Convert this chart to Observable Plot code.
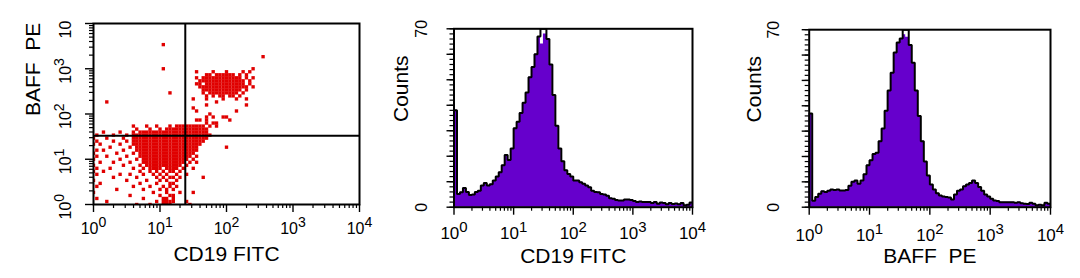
<!DOCTYPE html>
<html><head><meta charset="utf-8">
<script src="https://cdn.jsdelivr.net/npm/d3@7"></script>
<script src="https://cdn.jsdelivr.net/npm/@observablehq/plot@0.6"></script>
<style>
html,body{margin:0;padding:0;background:#fff;}
#wrap{position:relative;width:1080px;height:278px;overflow:hidden;background:#fff;}
.panel{position:absolute;top:0;}
svg text{white-space:pre;}
</style></head><body><div id="wrap"></div>
<script>
// ---------- data ----------
const decadeExponents = [0, 1, 2, 3, 4];
const xTickLabels = ["10^0", "10^1", "10^2", "10^3", "10^4"];
const scatterYTickLabels = ["10^0", "10^1", "10^2", "10^3", "10"];
const countLabelValues = [0, 70];
const cd19Gate = [24];   // CD19 FITC quadrant marker
const baffGate = [33];   // BAFF PE quadrant marker
const scatterXTitle = "CD19 FITC";
const scatterYTitle = "BAFF  PE";
const histYTitle = "Counts";
const hist1Title = "CD19 FITC";
const hist2Title = "BAFF  PE";

// Dot plot events: [BAFF PE channel row (1/15 decade), CD19 FITC channel columns (1/20 decade)]
const scatterRows = [
  [53, "21"],
  [49, "51"],
  [45, "21,48"],
  [44, "31,36,40,45,47"],
  [43, "34,35,37-42,44,46"],
  [42, "31,33-44,46,48"],
  [41, "32-45,47"],
  [40, "31,32,34-45,47"],
  [39, "32-46,48"],
  [38, "33-44,46"],
  [37, "23,33,35-43,45"],
  [36, "34,36,38,39,41,42,44"],
  [35, "30,34,39,43,46"],
  [34, "4,37"],
  [33, "34,46"],
  [32, "30"],
  [31, "31,43"],
  [30, "35"],
  [29, "34,36,39,40"],
  [28, "31,32,34,41"],
  [27, "34,36,37"],
  [26, "12,16,19,23,25-33,35,37"],
  [25, "13,17,20,22-34"],
  [24, "3,8,12,14-34"],
  [23, "1,6,10,12-35"],
  [22, "0,4,9,12-34"],
  [21, "1,6,10,12-33"],
  [20, "0,2,8,12-32"],
  [19, "5,11,13-31,40"],
  [18, "1,3,9,13-31"],
  [17, "0,7,12,14-30"],
  [16, "1,4,10,14-29,31"],
  [15, "0,8,13,15-28,30"],
  [14, "2,6,11,15-27,29,31"],
  [13, "0,9,14,16-26,28"],
  [12, "1,5,12,15,17-20,22-25,27,30"],
  [11, "0,3,14,17,19,21,23,24,26"],
  [10, "1,8,11,15,18,20,22,25,28"],
  [9, "6,13,19,21,23,24,26,33"],
  [8, "0,10,16,20,22,25"],
  [7, "2,14,19,23,24"],
  [6, "1,12,17,21,23,25"],
  [5, "7,15,20,22,24"],
  [4, "0,18,22,26,30"],
  [3, "11,20,23,24"],
  [2, "1,15,21,22,24"],
  [1, "4,19,21-24,28"],
  [0, "13,17,21-23,29"]
];

// Histogram counts, 80 channels of 1/20 decade from 10^0 to 10^4
const cd19Counts = [
  38, 5.2, 5.9, 7.5, 6, 4.8, 5, 6, 6.5, 8.5,
  9.5, 8.5, 9, 10.5, 12, 13.7, 16.5, 20.5, 18.5, 23,
  31, 33.5, 37, 41, 45, 51, 55, 60, 67, 64,
  68, 66, 56, 44, 32, 23, 18, 14.5, 13, 12,
  10.5, 10.5, 9.8, 9.2, 8.5, 7.8, 6.5, 6, 5.9, 5.2,
  5, 4.5, 3.5, 3.3, 2.8, 2.6, 2.6, 3, 3, 2.8,
  2.4, 2, 2.2, 2, 2, 2, 1.6, 2, 1.4, 1.8,
  1.6, 1.2, 1.6, 1.3, 1.5, 1.2, 1.6, 0.8, 1, 1.8
];
const cd19Offscale = [29, 30];
const baffCounts = [
  37, 2.5, 4, 5.3, 6.3, 6, 6.5, 7, 6.8, 7,
  6.6, 6.6, 6.8, 8.5, 10, 10.5, 9.2, 10.5, 13, 16.5,
  18.5, 21, 21.5, 26, 31, 38, 46, 53, 61, 65,
  66.5, 68, 67, 64, 57, 46, 36, 26, 18, 12.5,
  9, 7, 5.5, 4.6, 4.2, 4, 3.8, 3, 5, 6.5,
  7, 8.3, 9, 9.5, 10.5, 9.5, 8, 6.5, 5, 4.2,
  3.3, 2.6, 2.4, 2, 2, 2, 2, 2, 1.8, 2,
  1.6, 1.4, 1.3, 1.8, 1.4, 0.8, 1, 0.8, 1.8, 1.4
];
const baffOffscale = [31, 32];

// ---------- styling ----------
const RED = "#e00000";
const PURPLE = "#6600cc";
const FONT = "'Liberation Sans', Arial, Helvetica, sans-serif";
const binWidth = 0.05;

const logDecadeTicks = decadeExponents.map(e => 10 ** e);
const logMinorTicks = [];
for (const e of [0, 1, 2, 3]) for (const m of [2, 3, 4, 5, 6, 7, 8, 9]) logMinorTicks.push(m * 10 ** e);
const countMajorTicks = d3.range(0, 71, 10);
const countMinorTicks = d3.range(0, 71, 2);

const scatterEvents = [];
for (const [row, spec] of scatterRows) {
  for (const part of spec.split(",")) {
    const [a, b] = part.split("-").map(Number);
    const end = b === undefined ? a : b;
    for (let c = a; c <= end; c++) scatterEvents.push({cd19: 10 ** (c / 20), baff: 10 ** (row / 15)});
  }
}

function supify(svg) {
  svg.querySelectorAll("text").forEach(t => {
    const m = /^10\^(\d)$/.exec(t.textContent);
    if (m) {
      t.textContent = "10";
      const ts = document.createElementNS("http://www.w3.org/2000/svg", "tspan");
      ts.setAttribute("dy", "-0.5em");
      ts.setAttribute("font-size", "0.88em");
      ts.textContent = m[1];
      t.appendChild(ts);
    }
  });
  return svg;
}

function logXAxisMarks(labelDy, fontSize) {
  return [
    Plot.axisX({ticks: logMinorTicks, tickSize: 4, strokeWidth: 1.2, fill: "none", tickFormat: () => "", label: null}),
    Plot.axisX({ticks: logDecadeTicks, tickSize: 8, strokeWidth: 1.4, fill: "none", tickFormat: () => "", label: null}),
    Plot.text(decadeExponents, {x: d => 10 ** d, frameAnchor: "bottom", dy: labelDy, lineAnchor: "top",
      text: (d, i) => xTickLabels[i], fontSize, fill: "black"})
  ];
}

const wrap = document.getElementById("wrap");
function place(svg, left) {
  const div = document.createElement("div");
  div.className = "panel";
  div.style.left = left + "px";
  div.appendChild(supify(svg));
  wrap.appendChild(div);
}

// ---------- panel 1: dot plot ----------
const p1 = Plot.plot({
  width: 380, height: 278,
  marginLeft: 93, marginRight: 21, marginTop: 23, marginBottom: 74,
  style: {background: "none", fontFamily: FONT, overflow: "visible"},
  x: {type: "log", domain: [1, 1e4]},
  y: {type: "log", domain: [1, 1e4]},
  marks: [
    Plot.dot(scatterEvents, {x: "cd19", y: "baff", symbol: "square", r: 1.9, fill: RED, stroke: "none", clip: "frame"}),
    Plot.ruleX(cd19Gate, {stroke: "black", strokeWidth: 2}),
    Plot.ruleY(baffGate, {stroke: "black", strokeWidth: 2}),
    Plot.frame({stroke: "black", strokeWidth: 2}),
    ...logXAxisMarks(18, 16),
    Plot.axisY({ticks: logMinorTicks, tickSize: 4, strokeWidth: 1.2, fill: "none", tickFormat: () => "", label: null}),
    Plot.axisY({ticks: logDecadeTicks, tickSize: 8, strokeWidth: 1.4, fill: "none", tickFormat: () => "", label: null}),
    Plot.text(decadeExponents, {y: d => 10 ** d, frameAnchor: "left", dx: -28, dy: 15, rotate: -90,
      textAnchor: "start", lineAnchor: "middle", text: (d, i) => scatterYTickLabels[i], fontSize: 16, fill: "black"}),
    Plot.text([scatterXTitle], {frameAnchor: "bottom", dy: 42, lineAnchor: "top", fontSize: 21, fill: "black"}),
    Plot.text([scatterYTitle], {frameAnchor: "left", dx: -60, dy: 2, rotate: -90, lineAnchor: "middle", fontSize: 21, fill: "black"})
  ]
});
place(p1, 0);

// ---------- histogram panels ----------
function histPanel(counts, offscale, title, o) {
  const bins = counts.map((c, i) => ({x: 10 ** (i * binWidth), y: c}));
  bins.push({x: 1e4, y: counts[counts.length - 1]});
  const outline = [{x: 1, y: 0}, ...bins.map((b, i) => ({x: b.x, y: offscale.includes(i) ? 70 : b.y}))];
  return Plot.plot({
    width: o.width, height: 278,
    marginLeft: o.ml, marginRight: o.mr, marginTop: o.mt, marginBottom: o.mb,
    style: {background: "none", fontFamily: FONT, overflow: "visible"},
    x: {type: "log", domain: [1, 1e4]},
    y: {domain: [0, 70]},
    marks: [
      Plot.areaY(bins, {x: "x", y: "y", curve: "step-after", fill: PURPLE}),
      Plot.lineY(outline, {x: "x", y: "y", curve: "step-after", stroke: "black", strokeWidth: 2,
        strokeLinejoin: "miter", strokeLinecap: "butt", clip: "frame"}),
      Plot.frame({stroke: "black", strokeWidth: 2}),
      ...logXAxisMarks(o.tickDy, 17),
      Plot.axisY({ticks: countMinorTicks, tickSize: 4, strokeWidth: 1.2, fill: "none", tickFormat: () => "", label: null}),
      Plot.axisY({ticks: countMajorTicks, tickSize: 7, strokeWidth: 1.4, fill: "none", tickFormat: () => "", label: null}),
      Plot.text(countLabelValues, {y: d => d, frameAnchor: "left", dx: o.countDx, rotate: -90,
        textAnchor: "middle", lineAnchor: "middle", text: d => String(d), fontSize: 16, fill: "black"}),
      Plot.text([title], {frameAnchor: "bottom", dy: 41, lineAnchor: "top", fontSize: 21, fill: "black"}),
      Plot.text([histYTitle], {frameAnchor: "left", dx: o.titleDx, dy: 4, rotate: -90, lineAnchor: "middle", fontSize: 21, fill: "black"})
    ]
  });
}

place(histPanel(cd19Counts, cd19Offscale, hist1Title,
  {width: 345, ml: 83.5, mr: 23, mt: 28.3, mb: 71.3, tickDy: 20, countDx: -32, titleDx: -53}), 370);
place(histPanel(baffCounts, baffOffscale, hist2Title,
  {width: 360, ml: 88.7, mr: 30, mt: 29.2, mb: 71.3, tickDy: 22, countDx: -35, titleDx: -54.5}), 720);
</script></body></html>
